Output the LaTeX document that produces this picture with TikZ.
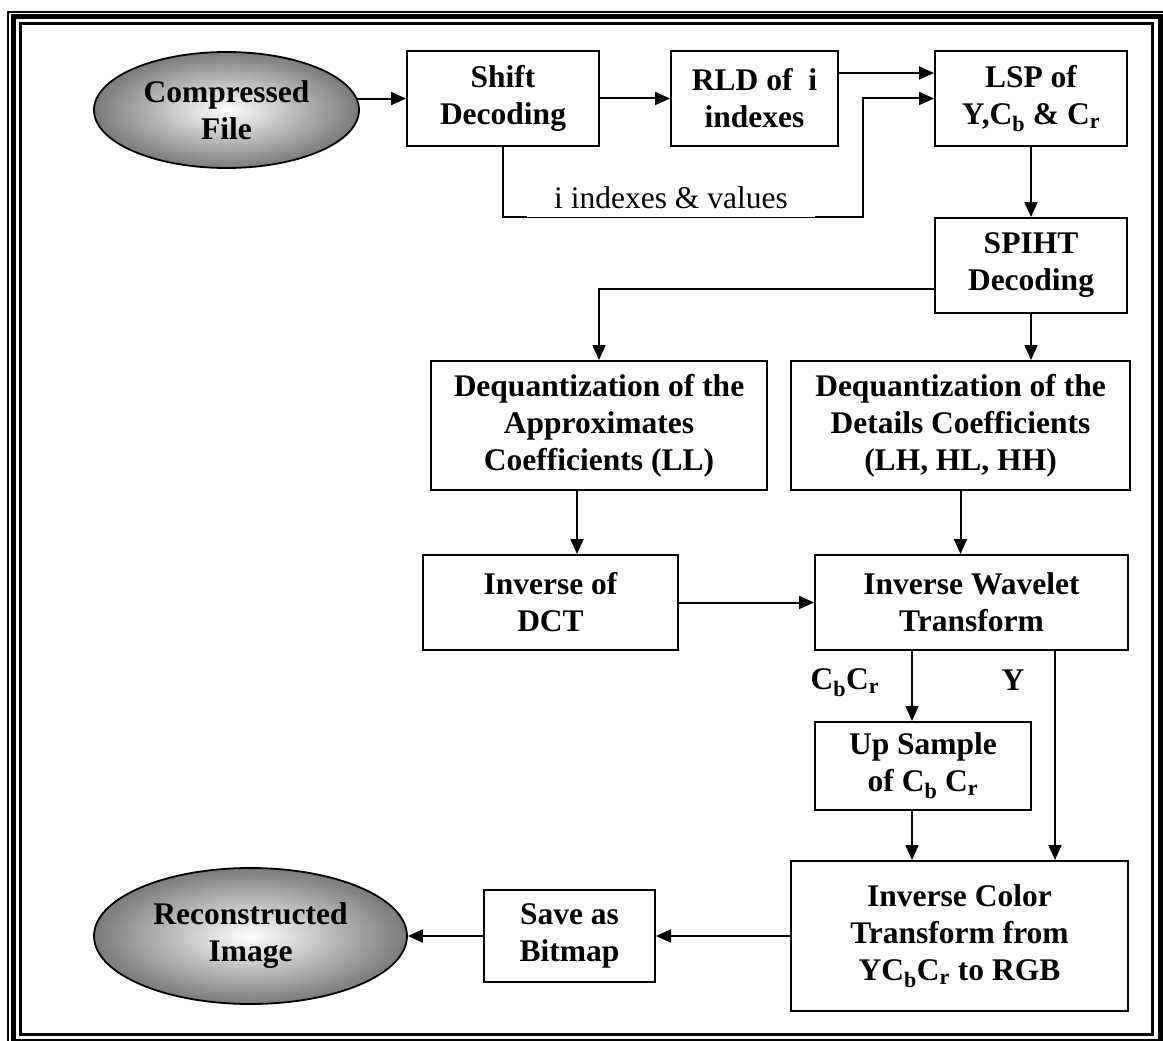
\documentclass[tikz,border=0pt]{standalone}
\usepackage{fontspec}
\setmainfont{Liberation Serif}
\usetikzlibrary{shapes.geometric,arrows.meta,calc}
\begin{document}
\begin{tikzpicture}[x=1pt,y=-1pt,
 box/.style={draw,line width=2pt,align=center,inner sep=0pt,font=\bfseries\fontsize{31.5}{37}\selectfont},
 blob/.style={ellipse,draw,line width=1.8pt,inner sep=0pt,inner color=white,outer color=black!52,align=center,font=\bfseries\fontsize{31.5}{37}\selectfont},
 arr/.style={line width=2pt,-{Triangle[length=15pt,width=13pt]}},
 lbl/.style={font=\bfseries\fontsize{31.5}{37}\selectfont}]
\useasboundingbox (0,0) rectangle (1163,1041);
\clip (0,0) rectangle (1163,1041);
\fill[white] (0,0) rectangle (1163,1041);
% frame
\draw[line width=2pt] (8,12) rectangle (1167,1048);
\draw[line width=5pt] (13.5,16.5) rectangle (1160,1041.5);
\draw[line width=2.5pt] (20.5,23.5) rectangle (1152.5,1034.5);
% nodes
\node[blob,minimum width=265pt,minimum height=116pt] (cf) at (226.5,110) {Compressed\\File};
\node[box,minimum width=192pt,minimum height=95pt] (sd) at (503,98.5) {Shift\\Decoding};
\node[box,minimum width=167pt,minimum height=95pt] (rld) at (754.5,98.5) {RLD of~~i\\indexes};
\node[box,minimum width=192pt,minimum height=95pt] (lsp) at (1031,98.5) {LSP of\\Y,C\textsubscript{b} \& C\textsubscript{r}};
\node[box,minimum width=192pt,minimum height=95pt] (spiht) at (1031,265.5) {SPIHT\\Decoding};
\node[box,minimum width=336pt,minimum height=129pt] (dql) at (599,425.5) {Dequantization of the\\Approximates\\Coefficients (LL)};
\node[box,minimum width=339pt,minimum height=129pt] (dqr) at (960.5,425.5) {Dequantization of the\\Details Coefficients\\(LH, HL, HH)};
\node[box,minimum width=255pt,minimum height=95pt] (idct) at (550.5,602.5) {Inverse of\\DCT};
\node[box,minimum width=313pt,minimum height=95pt] (iwt) at (971.5,602.5) {Inverse Wavelet\\Transform};
\node[box,minimum width=216pt,minimum height=88pt] (ups) at (923,766) {Up Sample\\of C\textsubscript{b} C\textsubscript{r}};
\node[box,minimum width=337pt,minimum height=150pt] (ict) at (959.5,936) {Inverse Color\\Transform from\\YC\textsubscript{b}C\textsubscript{r} to RGB};
\node[box,minimum width=171pt,minimum height=92pt] (sab) at (569.5,936) {Save as\\Bitmap};
\node[blob,minimum width=313pt,minimum height=136pt] (ri) at (250.5,936) {Reconstructed\\Image};
% connectors
\draw[arr] (cf.5) -- (cf.5 -| sd.west);
\draw[arr] (sd.east) -- (rld.west);
\draw[arr] ([yshift=25.5pt]rld.east) -- ([yshift=25.5pt]rld.east -| lsp.west);
\coordinate (k1) at (503,217);
\coordinate (k2) at (863,217);
\draw[arr] (sd.south) -- (k1) -- (k2) |- (lsp.west);
\node[fill=white,inner sep=0pt,minimum width=288pt,text height=26pt,text depth=9pt,font=\fontsize{31.5}{37}\selectfont,anchor=base] (iv) at (671,208) {i indexes \& values};
\draw[arr] (lsp.south) -- (spiht.north);
\coordinate (k3) at (935,289);
\draw[arr] (k3) -| (dql.north);
\draw[arr] (spiht.south) -- (spiht.south |- dqr.north);
\coordinate (k6) at (577,490);
\draw[arr] (k6) -- (k6 |- idct.north);
\draw[arr] (dqr.south) -- (dqr.south |- iwt.north);
\draw[arr] (idct.east) -- (iwt.west);
\coordinate (k4) at (912,650);
\coordinate (k5) at (1055,650);
\draw[arr] (k4) -- (k4 |- ups.north);
\draw[arr] (k5) -- (k5 |- ict.north);
\draw[arr] (k4 |- ups.south) -- (k4 |- ict.north);
\draw[arr] (ict.west) -- (sab.east);
\draw[arr] (sab.west) -- (ri.east);
\node[lbl] (cbcr) at (845,683) {C\textsubscript{b}C\textsubscript{r}};
\node[lbl] (ylab) at (1013,680) {Y};
\end{tikzpicture}
\end{document}
